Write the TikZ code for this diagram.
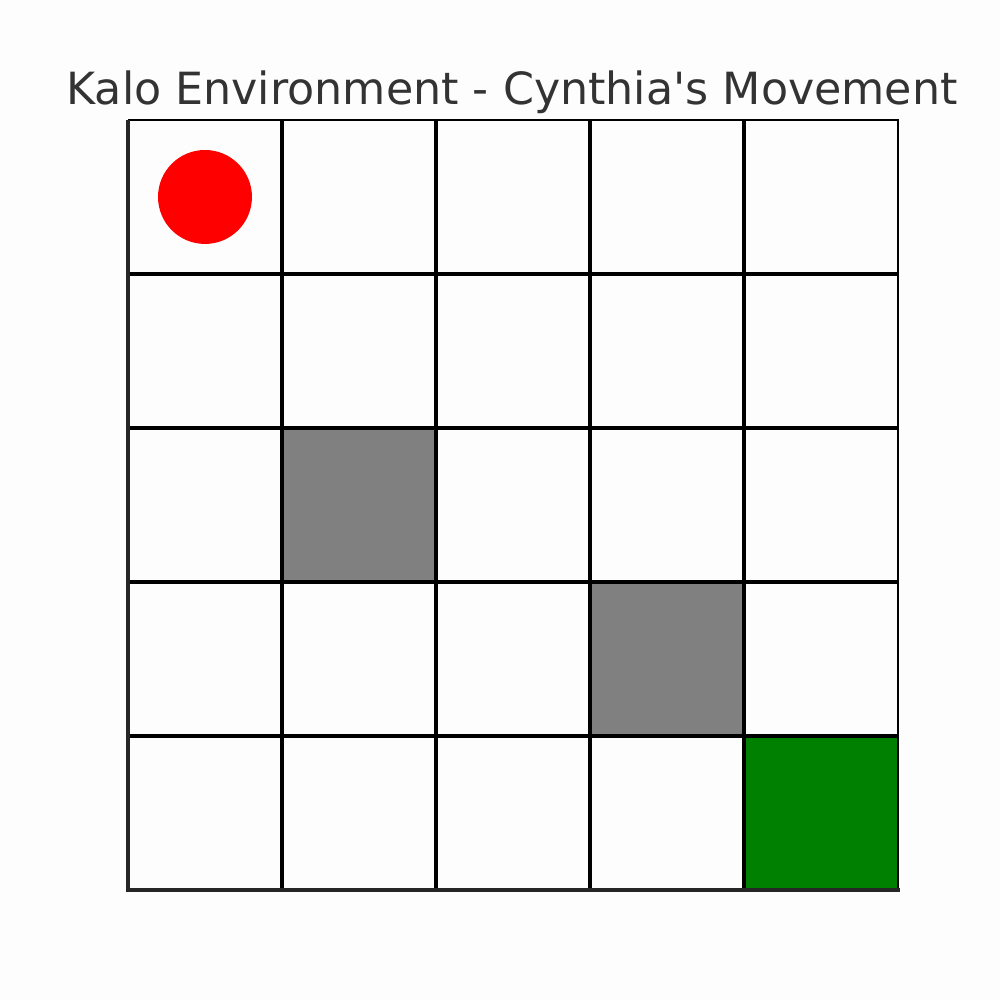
\documentclass[tikz,border=0pt]{standalone}
\usepackage{fontspec}
\setmainfont{DejaVu Sans}
\usepackage{tikz}
\usetikzlibrary{positioning}
\usepackage{xcolor}
\definecolor{bgwhite}{RGB}{253,253,253}
\definecolor{titlegray}{RGB}{51,51,51}
\definecolor{axisdark}{RGB}{38,38,38}
\definecolor{wallgray}{RGB}{128,128,128}
\definecolor{goalgreen}{RGB}{0,128,0}
\definecolor{agentred}{RGB}{255,0,0}

\begin{document}
\begin{tikzpicture}[x=1.54cm, y=1.54cm]
  \fill[bgwhite] (-0.831,-0.714) rectangle (5.662,5.779);
  \useasboundingbox (-0.831,-0.714) rectangle (5.662,5.779);
  % walls and goal
  \fill[wallgray] (1,2) rectangle (2,3);
  \fill[wallgray] (3,1) rectangle (4,2);
  \fill[goalgreen] (4,0) rectangle (5,1);
  % cell borders
  \foreach \i in {1,...,4} {
    \draw[black, line width=0.95pt] (\i,0) -- (\i,5);
    \draw[black, line width=0.95pt] (0,\i) -- (5,\i);
  }
  \draw[black, line width=0.45pt] (0,5) -- (5,5) -- (5,0);
  \draw[axisdark, line width=0.95pt] (0,5) -- (0,0) -- (5.01,0);
  % Cynthia
  \fill[agentred] (0.5,4.5) circle (0.305);
  \node[titlegray, font=\fontsize{12.62}{15}\selectfont, anchor=base] (title) at (2.494,5.1) {Kalo Environment - Cynthia\textquotesingle s Movement};
\end{tikzpicture}
\end{document}
